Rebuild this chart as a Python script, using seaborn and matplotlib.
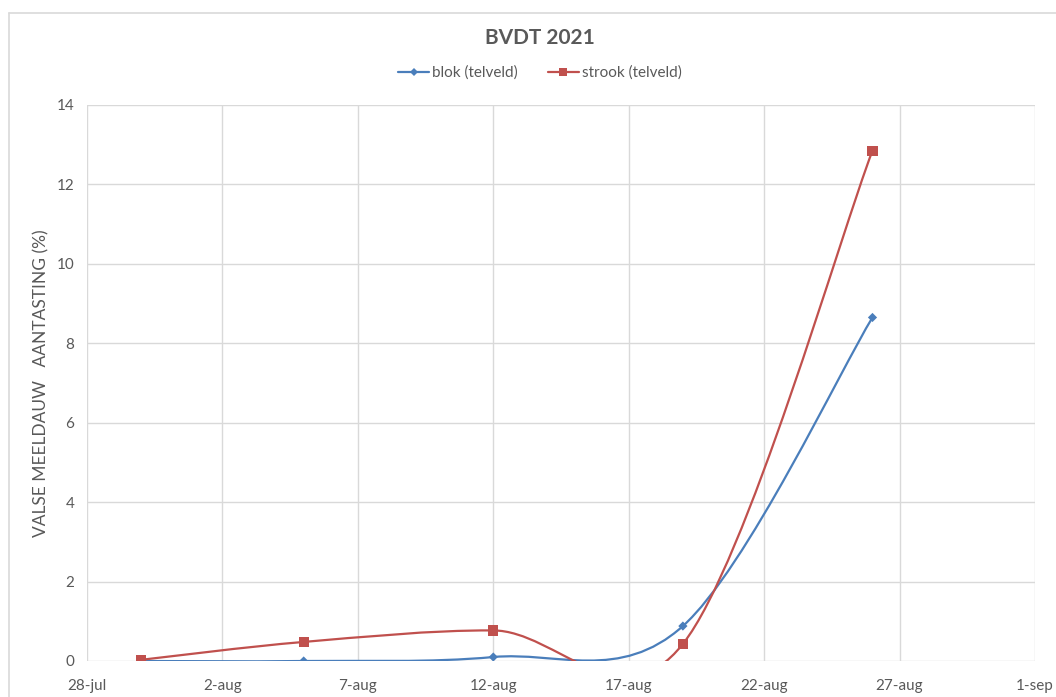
import numpy as np
import pandas as pd
import matplotlib
matplotlib.use("Agg")
import matplotlib.pyplot as plt
import matplotlib.dates as mdates
from matplotlib.path import Path
from matplotlib.patches import PathPatch
from matplotlib.lines import Line2D
import seaborn as sns

# --- data -------------------------------------------------------------
dates = ["2021-07-30", "2021-08-05", "2021-08-12", "2021-08-19", "2021-08-26"]
blok = [0.0, 0.0, 0.1, 0.88, 8.65]
strook = [0.03, 0.48, 0.77, 0.43, 12.85]
series_names = ["blok (telveld)", "strook (telveld)"]
tick_dates = ["2021-07-28", "2021-08-02", "2021-08-07", "2021-08-12",
              "2021-08-17", "2021-08-22", "2021-08-27", "2021-09-01"]
tick_labels = ["28-jul", "2-aug", "7-aug", "12-aug", "17-aug", "22-aug", "27-aug", "1-sep"]
y_ticks = [0, 2, 4, 6, 8, 10, 12, 14]

BLUE = "#4a7ebb"
RED = "#c0504d"
GRID = "#d9d9d9"
TEXT = "#595959"

sns.set_theme(style="white")
plt.rcParams["font.family"] = ["Lato", "DejaVu Sans"]

df = pd.DataFrame({
    "date": pd.to_datetime(dates * 2),
    "value": blok + strook,
    "serie": [series_names[0]] * len(dates) + [series_names[1]] * len(dates),
})

fig = plt.figure(figsize=(10.56, 6.97), dpi=100)
ax = fig.add_axes([87 / 1056, 1 - 661 / 697, (1035 - 87) / 1056, (661 - 105) / 697])


def smooth_path(xs, ys):
    """Catmull-Rom style cubic Bezier path through the points (spreadsheet smoothing)."""
    pts = np.column_stack([xs, ys])
    n = len(pts)
    verts = [pts[0]]
    codes = [Path.MOVETO]
    for i in range(n - 1):
        p0 = pts[i - 1] if i > 0 else pts[i]
        p1 = pts[i]
        p2 = pts[i + 1]
        p3 = pts[i + 2] if i + 2 < n else pts[i + 1]
        c1 = p1 + (p2 - p0) / 6.0
        c2 = p2 - (p3 - p1) / 6.0
        verts += [c1, c2, p2]
        codes += [Path.CURVE4] * 3
    return Path(verts, codes)


xnum = mdates.date2num(pd.to_datetime(dates))
for vals, col in [(blok, BLUE), (strook, RED)]:
    patch = PathPatch(smooth_path(xnum, np.array(vals)), facecolor="none",
                      edgecolor=col, lw=1.6, zorder=3)
    ax.add_patch(patch)

sns.scatterplot(data=df, x="date", y="value", hue="serie", style="serie",
                palette=[BLUE, RED], markers=["D", "s"], s=30, ax=ax,
                edgecolor="none", legend=False, zorder=4)
# smaller diamonds for blok, larger squares for strook
ax.collections[-1].set_sizes(np.where(df["serie"] == series_names[0], 22, 55))

ax.set_xlim(mdates.date2num(pd.Timestamp(tick_dates[0])), mdates.date2num(pd.Timestamp(tick_dates[-1])))
ax.set_ylim(0, 14)
ax.set_xticks(mdates.date2num(pd.to_datetime(tick_dates)))
ax.set_xticklabels(tick_labels)
ax.set_yticks(y_ticks)
ax.set_yticklabels([str(v) for v in y_ticks])
ax.grid(True, color=GRID, lw=1.0)
ax.set_axisbelow(True)
for s in ax.spines.values():
    s.set_visible(False)
ax.tick_params(axis="both", length=0, labelsize=11, colors=TEXT)
ax.tick_params(axis="x", pad=13)
ax.tick_params(axis="y", pad=9)
ax.set_xlabel("")
ax.set_ylabel("VALSE MEELDAUW   AANTASTING (%)", fontsize=12.5, color=TEXT, labelpad=5)

fig.text(540 / 1056, 1 - 38 / 697, "BVDT 2021", ha="center", va="center",
         fontsize=15, fontweight="bold", color=TEXT)

handles = [
    Line2D([], [], color=BLUE, lw=1.6, marker="D", markersize=4, markeredgewidth=0),
    Line2D([], [], color=RED, lw=1.6, marker="s", markersize=6, markeredgewidth=0),
]
fig.legend(handles, series_names, loc="center", bbox_to_anchor=(540 / 1056, 1 - 73 / 697),
           ncol=2, frameon=False, fontsize=11, labelcolor=TEXT, handlelength=2.0,
           handletextpad=0.2, columnspacing=2.0)

# chart frame (top and left edges visible)
fig.add_artist(Line2D([9 / 1056, 9 / 1056], [0, 1 - 13 / 697], transform=fig.transFigure,
                      color=GRID, lw=1.2))
fig.add_artist(Line2D([9 / 1056, 1], [1 - 13 / 697, 1 - 13 / 697], transform=fig.transFigure,
                      color=GRID, lw=1.2))

fig.savefig("out.png", dpi=100)
